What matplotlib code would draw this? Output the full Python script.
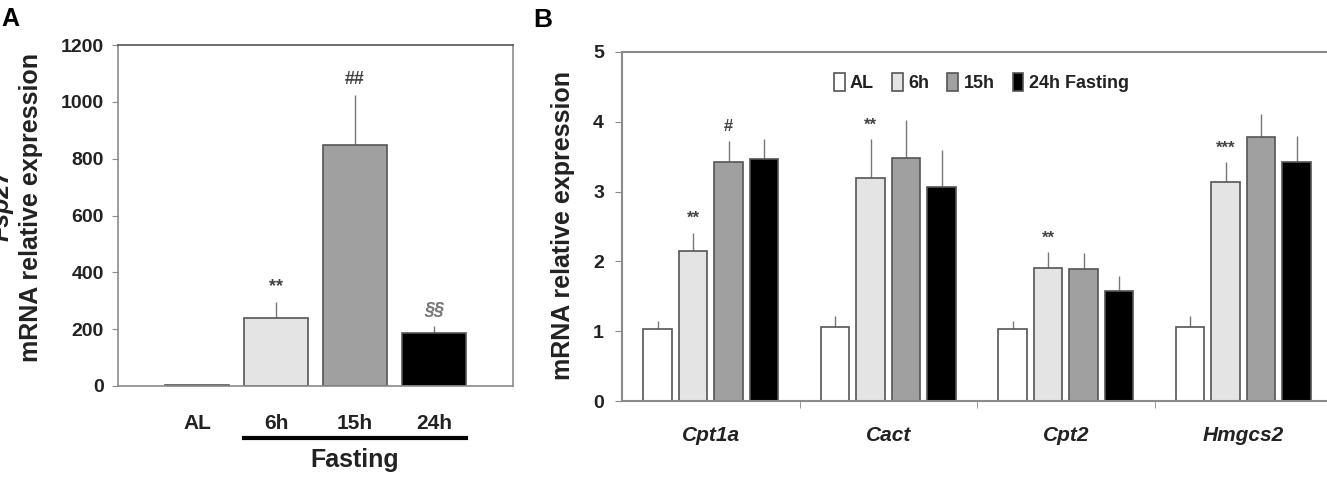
import numpy as np
import matplotlib
matplotlib.use("Agg")
import matplotlib.pyplot as plt
import matplotlib.transforms as mtransforms
from matplotlib import font_manager

# Panel A data (Fsp27)
a_groups = ["AL", "6h", "15h", "24h"]
a_means = [3, 239, 848, 186]
a_errs = [1, 56, 176, 25]
a_marks = ["", "**", "##", "§§"]

# Panel B data
genes = ["Cpt1a", "Cact", "Cpt2", "Hmgcs2"]
series = ["AL", "6h", "15h", "24h Fasting"]
al_vals = [1.03, 1.06, 1.03, 1.06]
h6_vals = [2.15, 3.20, 1.90, 3.14]
h15_vals = [3.43, 3.48, 1.89, 3.78]
h24_vals = [3.46, 3.06, 1.58, 3.43]
al_err = [0.12, 0.16, 0.12, 0.16]
h6_err = [0.26, 0.55, 0.23, 0.28]
h15_err = [0.30, 0.55, 0.23, 0.33]
h24_err = [0.29, 0.54, 0.21, 0.37]
h6_marks = ["**", "**", "**", "***"]
h15_marks = ["#", "", "", ""]

colors = ["white", "#e4e4e4", "#a0a0a0", "black"]
edge = "#555555"
spine_c = "#8a8a8a"
txt_c = "#222222"

# condensed font for panel B labels if it is there
try:
    font_manager.findfont("Liberation Sans Narrow", fallback_to_default=False)
    has_narrow = True
except Exception:
    has_narrow = False
sans = ["Liberation Sans", "DejaVu Sans"]
narrow = ["Liberation Sans Narrow"] + sans if has_narrow else sans
leg_size = 16 if has_narrow else 13
btick_size = 16 if has_narrow else 14

fig = plt.figure(figsize=(13.27, 4.78), dpi=100)

# ---------- Panel A ----------
axA = fig.add_axes([118 / 1327, 92 / 478, 395 / 1327, 341 / 478])
x = np.arange(len(a_groups))
axA.bar(x, a_means, width=0.8, color=colors, edgecolor=edge, linewidth=1.2, zorder=2)
axA.errorbar(x, a_means, yerr=[np.zeros(4), a_errs], fmt="none", ecolor="#777777",
             elinewidth=1, capsize=0, zorder=1)
for xi, m, e, s in zip(x, a_means, a_errs, a_marks):
    if s:
        sect = s == "§§"
        axA.text(xi, m + e + 25, s, ha="center", va="bottom", fontsize=13,
                 fontweight="bold", color="#777777" if sect else "#444444", family=sans,
                 style="italic" if sect else "normal")
axA.set_xlim(-1, 4)
axA.set_ylim(0, 1200)
axA.set_yticks(range(0, 1201, 200))
axA.set_xticks(x)
axA.set_xticklabels(a_groups)
for sp in axA.spines.values():
    sp.set_color(spine_c)
    sp.set_linewidth(1.2)
axA.spines["top"].set_color("#555555")
axA.tick_params(axis="y", length=4, color=spine_c, labelsize=14, pad=6)
axA.tick_params(axis="x", length=0, labelsize=15, pad=20)
for lab in axA.get_yticklabels() + axA.get_xticklabels():
    lab.set_fontweight("bold")
    lab.set_family(sans)
    lab.set_color(txt_c)

# Fasting bar under the fasting groups
trA = mtransforms.blended_transform_factory(axA.transData, axA.transAxes)
axA.plot([0.6, 3.4], [-0.152, -0.152], color="black", lw=3, transform=trA, clip_on=False)
axA.text(2, -0.218, "Fasting", transform=trA, ha="center", va="center",
         fontsize=18, fontweight="bold", family=sans, color=txt_c)

fig.text(31 / 1327, 1 - 207 / 478, "mRNA relative expression", rotation=90,
         ha="center", va="center", fontsize=18, fontweight="bold", family=sans, color=txt_c)
fig.text(2 / 1327, 1 - 205 / 478, "Fsp27", rotation=90, ha="center", va="center",
         fontsize=18, fontweight="bold", style="italic", family=sans, color=txt_c)
fig.text(1 / 1327, 1 - 19 / 478, "A", ha="left", va="center", fontsize=18,
         fontweight="bold", family=sans)

# ---------- Panel B ----------
axB = fig.add_axes([622 / 1327, 77 / 478, 710 / 1327, 349 / 478])
gx = np.arange(len(genes))
vals = [al_vals, h6_vals, h15_vals, h24_vals]
errs = [al_err, h6_err, h15_err, h24_err]
offsets = [-0.3, -0.1, 0.1, 0.3]
for j in range(4):
    xs = gx + offsets[j]
    axB.bar(xs, vals[j], width=0.16, color=colors[j], edgecolor=edge, linewidth=1.2,
            zorder=2, label=series[j])
    axB.errorbar(xs, vals[j], yerr=[np.zeros(4), errs[j]], fmt="none", ecolor="#777777",
                 elinewidth=1, capsize=0, zorder=1)
for i in range(4):
    if h6_marks[i]:
        axB.text(gx[i] - 0.1, h6_vals[i] + h6_err[i] + 0.1, h6_marks[i], ha="center",
                 va="bottom", fontsize=12, fontweight="bold", color="#444444", family=sans)
    if h15_marks[i]:
        axB.text(gx[i] + 0.1, h15_vals[i] + h15_err[i] + 0.1, h15_marks[i], ha="center",
                 va="bottom", fontsize=12, fontweight="bold", color="#444444", family=sans)
axB.set_xlim(-0.5, 3.5)
axB.set_ylim(0, 5)
axB.set_yticks(range(0, 6))
axB.set_xticks(gx)
axB.set_xticklabels(genes)
axB.set_xticks([0.5, 1.5, 2.5], minor=True)
for sp in axB.spines.values():
    sp.set_color(spine_c)
    sp.set_linewidth(1.5)
axB.tick_params(axis="y", length=5, color=spine_c, labelsize=btick_size, pad=8)
axB.tick_params(axis="x", which="major", length=0, labelsize=15, pad=18)
axB.tick_params(axis="x", which="minor", length=5, color=spine_c)
for lab in axB.get_yticklabels():
    lab.set_fontweight("bold")
    lab.set_family(narrow)
    lab.set_color(txt_c)
for lab in axB.get_xticklabels():
    lab.set_fontweight("bold")
    lab.set_style("italic")
    lab.set_family(sans)
    lab.set_color(txt_c)

leg = axB.legend(loc="upper center", bbox_to_anchor=(0.506, 0.985), ncol=4, frameon=False,
                 handlelength=0.6, handleheight=1.1, handletextpad=0.3, columnspacing=1.0,
                 prop={"family": narrow, "weight": "bold", "size": leg_size})
for t in leg.get_texts():
    t.set_color(txt_c)

fig.text(563 / 1327, 1 - 225 / 478, "mRNA relative expression", rotation=90,
         ha="center", va="center", fontsize=18, fontweight="bold", family=sans, color=txt_c)
fig.text(533 / 1327, 1 - 20 / 478, "B", ha="left", va="center", fontsize=19,
         fontweight="bold", family=narrow)

fig.savefig("out.png", dpi=100)
